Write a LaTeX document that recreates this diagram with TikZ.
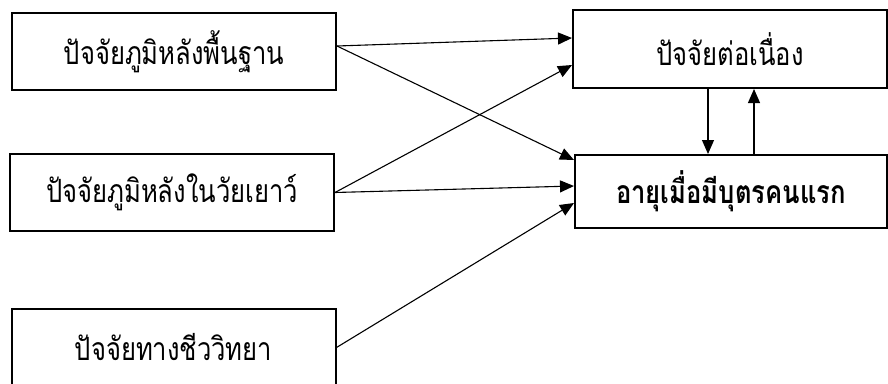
\documentclass[tikz,border=0pt]{standalone}
\usepackage{fontspec}
\newfontfamily\thaifont[Script=Thai, FakeStretch=0.8]{Loma}
\usetikzlibrary{arrows.meta}

\begin{document}
\begin{tikzpicture}[x=1pt, y=-1pt, >={Triangle[length=14pt,width=12pt]},
	factor/.style={draw, rectangle, line width=2pt, minimum width=324pt, minimum height=77pt, inner sep=0pt, font=\thaifont\fontsize{32}{36}\selectfont},
	link/.style={->, line width=1.1pt}]
	
	\useasboundingbox (0,0) rectangle (888,383);
	\clip (0,0) rectangle (888,383);
	
	% Define nodes
	\node [factor] (ground) at (174,51.5) {ปัจจัยภูมิหลังพื้นฐาน};
	\node [factor] (youth) at (172,192.5) {ปัจจัยภูมิหลังในวัยเยาว์};
	\node [factor] (bio) at (173.5,347.5) {ปัจจัยทางชีววิทยา};
	\node [factor, minimum width=314pt, minimum height=78pt] (cont) at (730,49) {ปัจจัยต่อเนื่อง};
	\node [factor, minimum width=312pt, minimum height=73pt, font=\thaifont\bfseries\fontsize{32}{36}\selectfont] (age) at (731,191.5) {อายุเมื่อมีบุตรคนแรก};
	
	% Arrows from the factors
	\draw[link] ([yshift=5.5pt]ground.east) -- ([yshift=11pt]cont.west);
	\draw[link] ([yshift=5.5pt]ground.east) -- ([yshift=31.5pt]age.west);
	\draw[link] (youth.east) -- ([yshift=-16pt]cont.west);
	\draw[link] (youth.east) -- ([yshift=5.5pt]age.west);
	\draw[link] (bio.east) -- ([yshift=-11.5pt]age.west);
	
	% Arrows between the two right blocks
	\draw[link] ([xshift=-22pt]cont.south) -- ([xshift=-22pt]cont.south |- age.north);
	\draw[link] ([xshift=23pt]age.north) -- ([xshift=23pt]age.north |- cont.south);
\end{tikzpicture}
\end{document}
